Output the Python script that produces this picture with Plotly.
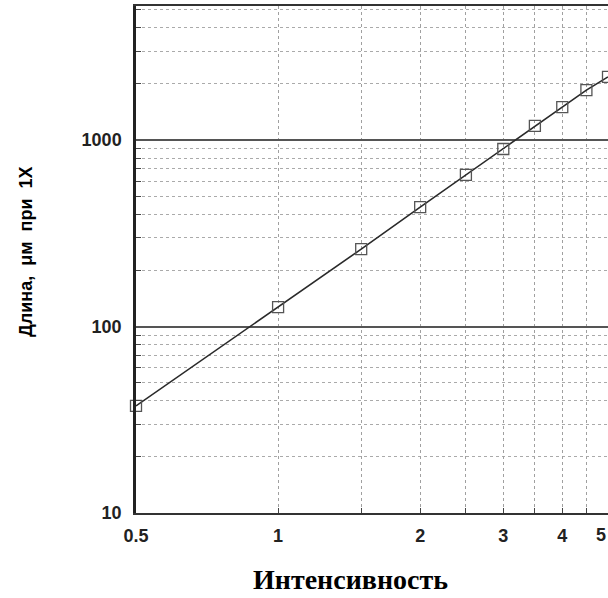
import math
import plotly.graph_objects as go

# Data
intensity = [0.5, 1.0, 1.5, 2.0, 2.5, 3.0, 3.5, 4.0, 4.5, 5.0]
length_um = [37.5, 127, 260, 437, 650, 895, 1190, 1500, 1850, 2180]

x_tickvals = [0.5, 1, 2, 3, 4]
x_ticktext = ["0.5", "1", "2", "3", "4"]
x_edge_tick = 5  # last tick label, at the right edge of the picture
x_minor = [1.5, 2.5, 3.5, 4.5, 5]
y_tickvals = [10, 100, 1000]
y_ticktext = ["10", "100", "1000"]
y_minor = [m * d for d in (10, 100, 1000) for m in range(2, 10)]

fig = go.Figure()
fig.add_trace(go.Scatter(
    x=intensity, y=length_um, mode="lines+markers",
    line=dict(color="#2a2a2a", width=1.6),
    marker=dict(symbol="square-open", size=11, color="#555555", line=dict(width=1.3)),
    showlegend=False, cliponaxis=False,
))

tick_font = dict(family="Liberation Sans, Arial, sans-serif", size=18, color="#222222",
                 weight="bold")

fig.update_layout(
    width=608, height=598,
    margin=dict(l=136, r=0, t=6, b=85),
    paper_bgcolor="white", plot_bgcolor="white",
    xaxis=dict(
        type="log", range=[math.log10(0.5), math.log10(5.0)],
        tickmode="array", tickvals=x_tickvals, ticktext=x_ticktext,
        tickfont=tick_font, ticks="inside", ticklen=5, tickcolor="#444",
        ticklabelstandoff=5,
        showgrid=True, gridcolor="#a0a0a0", griddash="dot", gridwidth=1,
        minor=dict(tickmode="array", tickvals=x_minor, showgrid=True,
                   gridcolor="#a0a0a0", griddash="dot", gridwidth=1,
                   ticks="inside", ticklen=5, tickcolor="#444"),
        showline=True, linecolor="#333", linewidth=2, mirror=True,
        zeroline=False,
    ),
    yaxis=dict(
        type="log", range=[1, 1 + 507 / 186.5],
        tickmode="array", tickvals=y_tickvals, ticktext=y_ticktext,
        tickfont=tick_font, ticks="",
        showgrid=True, gridcolor="#555555", gridwidth=2,
        minor=dict(tickmode="array", tickvals=y_minor, showgrid=True,
                   gridcolor="#aaaaaa", griddash="dot", gridwidth=1,
                   ticks="inside", ticklen=5, tickcolor="#444"),
        showline=True, linecolor="#222", linewidth=2.5,
        zeroline=False, ticklabelstandoff=8,
    ),
    annotations=[
        dict(text=str(x_edge_tick), xref="x", yref="paper",
             x=math.log10(x_edge_tick), y=-(535 - 513) / 507, xanchor="right", yanchor="middle",
             showarrow=False, font=tick_font),
        dict(text="<b>Интенсивность</b>", xref="paper", yref="paper",
             x=(350 - 136) / 472, y=-(579 - 513) / 507, xanchor="center", yanchor="middle",
             showarrow=False,
             font=dict(family="Liberation Serif, Times New Roman, serif", size=28, color="black")),
        dict(text="<b>Длина,  μм  при  1X</b>", xref="paper", yref="paper",
             x=(26 - 136) / 472, y=(513 - 252) / 507, xanchor="center", yanchor="middle",
             textangle=-90, showarrow=False,
             font=dict(family="Liberation Sans, Arial, sans-serif", size=18, color="black")),
    ],
)

fig.write_html("out.html")
